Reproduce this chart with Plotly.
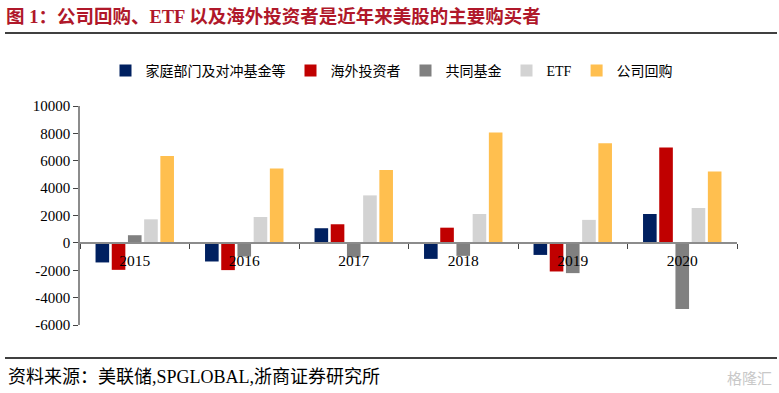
import plotly.graph_objects as go

# ---------------- data ----------------
years = ["2015", "2016", "2017", "2018", "2019", "2020"]
households_hedge = [-1430, -1360, 1070, -1170, -880, 2110]
foreign_investors = [-1970, -1990, 1360, 1110, -2090, 6970]
mutual_funds = [560, -1000, -1050, -950, -2210, -4830]
etf_flows = [1720, 1890, 3470, 2110, 1680, 2550]
buybacks = [6340, 5440, 5320, 8060, 7280, 5220]

series_names = ["家庭部门及对冲基金等", "海外投资者", "共同基金", "ETF", "公司回购"]
series_colors = ["#002060", "#C00000", "#808080", "#D3D3D3", "#FFBF4F"]

y_tick_vals = [-6000, -4000, -2000, 0, 2000, 4000, 6000, 8000, 10000]
y_tick_text = ["-6000", "-4000", "-2000", "0", "2000", "4000", "6000", "8000", "10000"]

title_text = "图 1：公司回购、ETF 以及海外投资者是近年来美股的主要购买者"
source_text = "资料来源：美联储,SPGLOBAL,浙商证券研究所"
watermark_text = "格隆汇"

# ---------------- layout geometry ----------------
W, H = 779, 393
ML, MR, MT, MB = 80, 42, 106, 68
PW, PH = W - ML - MR, H - MT - MB


def px_x(x):
    return (x - ML) / PW


def px_y(y):
    return (H - MB - y) / PH


serif = "Liberation Serif, Noto Sans CJK SC, serif"
cjk = "Liberation Serif, Noto Sans CJK SC, sans-serif"

fig = go.Figure()
all_values = [households_hedge, foreign_investors, mutual_funds, etf_flows, buybacks]
for name, vals, col in zip(series_names, all_values, series_colors):
    fig.add_trace(go.Bar(
        x=years, y=vals, name=name,
        marker=dict(color=col, line=dict(width=0)),
        hoverinfo="x+y+name",
    ))

ymin, ymax = y_tick_vals[0], y_tick_vals[-1]
zero_pos = (0 - ymin) / (ymax - ymin)

fig.update_layout(
    width=W, height=H, autosize=False,
    margin=dict(l=ML, r=MR, t=MT, b=MB, pad=0),
    paper_bgcolor="white", plot_bgcolor="white",
    barmode="group", bargap=0.26, bargroupgap=0.16,
    font=dict(family=serif, size=15, color="black"),
    title=dict(
        text="<b>" + title_text + "</b>",
        x=6 / W, xref="container", xanchor="left",
        y=1 - 17 / H, yref="container", yanchor="middle",
        font=dict(family="Liberation Serif, Noto Sans CJK SC, sans-serif", size=18.5, color="#B0182A"),
    ),
    legend=dict(
        orientation="h", x=px_x(392), xanchor="center",
        y=px_y(71), yanchor="middle",
        font=dict(family=cjk, size=14, color="black"),
        itemwidth=30, traceorder="normal",
        bgcolor="rgba(0,0,0,0)",
    ),
    xaxis=dict(
        type="category", range=[-0.5, 5.5],
        anchor="free", position=zero_pos,
        showline=True, linecolor="#8C8C8C", linewidth=1.5,
        ticks="outside", tickson="boundaries", ticklen=5,
        tickcolor="#444444", tickwidth=1,
        showgrid=False, zeroline=False,
        tickfont=dict(family=serif, size=15.5, color="black"),
        ticklabelstandoff=4,
    ),
    yaxis=dict(
        range=[ymin, ymax],
        tickvals=y_tick_vals, ticktext=y_tick_text,
        showline=True, linecolor="#8C8C8C", linewidth=1.5,
        ticks="outside", ticklen=5, tickcolor="#444444",
        showgrid=False, zeroline=False,
        tickfont=dict(family=serif, size=15, color="black"),
    ),
    shapes=[
        dict(type="line", xref="paper", yref="paper",
             x0=px_x(5), x1=px_x(777), y0=px_y(33), y1=px_y(33),
             line=dict(color="black", width=1.5)),
        dict(type="line", xref="paper", yref="paper",
             x0=px_x(5), x1=px_x(777), y0=px_y(358), y1=px_y(358),
             line=dict(color="black", width=1.5)),
    ],
    annotations=[
        dict(text=source_text, xref="paper", yref="paper",
             x=px_x(6), y=px_y(377), xanchor="left", yanchor="middle",
             showarrow=False, font=dict(family=cjk, size=18, color="black")),
        dict(text=watermark_text, xref="paper", yref="paper",
             x=px_x(774), y=px_y(377), xanchor="right", yanchor="middle",
             showarrow=False, font=dict(family="Noto Sans CJK SC, sans-serif", size=15, color="#C8C8C8")),
    ],
)

fig.write_html(
    "out.html",
    config={"displayModeBar": False},
    post_script="document.body.style.margin='0';document.body.style.overflow='hidden';",
)
